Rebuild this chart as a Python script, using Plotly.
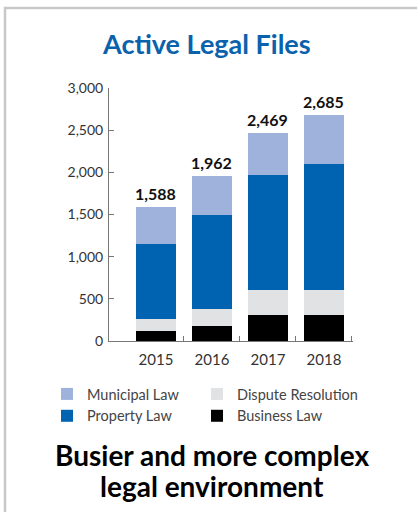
import plotly.graph_objects as go

# Active legal files by practice area, 2015-2018
years = ["2015", "2016", "2017", "2018"]
business_law = [120, 175, 305, 305]
dispute_resolution = [140, 205, 295, 295]
property_law = [890, 1120, 1370, 1495]
municipal_law = [438, 462, 499, 590]
totals = [1588, 1962, 2469, 2685]
y_ticks = [0, 500, 1000, 1500, 2000, 2500, 3000]

xpos = list(range(len(years)))

# stacked from the bottom up; each series goes to one of two legend columns
series = [
    ("Business Law", business_law, "#000000", "legend2", 2),
    ("Dispute Resolution", dispute_resolution, "#e1e2e4", "legend2", 1),
    ("Property Law", property_law, "#0063b1", "legend", 2),
    ("Municipal Law", municipal_law, "#9fb2dc", "legend", 1),
]

fig = go.Figure()
for name, vals, color, leg, rank in series:
    fig.add_trace(go.Bar(
        x=xpos, y=vals, name=name, marker=dict(color=color, line=dict(width=0)),
        width=0.73, legend=leg, legendrank=rank, hoverinfo="skip",
    ))

tick_font = dict(family="Lato", size=14, color="#333333")

# plot area geometry in pixels
W, H = 417, 512
L, R, T, B = 109, 64, 88, 171
pw, ph = W - L - R, H - T - B

def px_x(p):
    return (p - L) / pw

def px_y(p):
    return (H - B - p) / ph

for i, tot in enumerate(totals):
    fig.add_annotation(
        x=xpos[i], y=tot, xref="x", yref="y", text=f"<b>{tot:,}</b>",
        showarrow=False, yanchor="bottom", yshift=2,
        font=dict(family="Lato", size=16, color="#111111"),
    )

fig.add_annotation(
    x=px_x(206), y=px_y(44), xref="paper", yref="paper",
    text="<b>Active Legal Files</b>", showarrow=False,
    xanchor="center", yanchor="middle",
    font=dict(family="Lato", size=27, color="#0a62ad"),
)
for line, cy in (("Busier and more complex", 455), ("legal environment", 486)):
    fig.add_annotation(
        x=px_x(212), y=px_y(cy), xref="paper", yref="paper",
        text=f"<b>{line}</b>", showarrow=False,
        xanchor="center", yanchor="middle",
        font=dict(family="Lato", size=28, color="#000000"),
    )

# frame line along the top and left edges
fig.add_shape(
    type="path", xref="paper", yref="paper",
    path=f"M {px_x(5)} {px_y(560)} L {px_x(5)} {px_y(8)} L {px_x(460)} {px_y(8)}",
    line=dict(color="#c8c8c8", width=2.5),
)

legend_style = dict(
    orientation="v", xanchor="left", yanchor="top", traceorder="normal",
    font=dict(family="Lato", size=14.5, color="#444444"),
    itemclick=False, itemdoubleclick=False, bgcolor="rgba(0,0,0,0)",
)

fig.update_layout(
    width=W, height=H, barmode="stack", bargap=0,
    margin=dict(l=L, r=R, t=T, b=B, pad=0),
    paper_bgcolor="white", plot_bgcolor="white",
    showlegend=True,
    legend=dict(x=px_x(47), y=px_y(378), **legend_style),
    legend2=dict(x=px_x(197), y=px_y(378), **legend_style),
    xaxis=dict(
        range=[-0.839, 3.518], tickvals=xpos, ticktext=years, ticks="",
        showline=True, linecolor="#777777", linewidth=1, showgrid=False,
        zeroline=False, tickfont=dict(family="Lato", size=15, color="#333333"),
        ticklabelstandoff=5, fixedrange=True,
    ),
    xaxis2=dict(
        overlaying="x", matches="x", side="bottom",
        tickvals=[0.5, 1.5, 2.5, 3.5], ticks="inside", ticklen=5,
        tickcolor="#777777", showticklabels=False, showgrid=False,
        showline=False, zeroline=False,
    ),
    yaxis=dict(
        range=[0, 3000], tickvals=y_ticks, tickformat=",", ticks="inside",
        ticklen=5, tickcolor="#777777", showline=True, linecolor="#777777",
        linewidth=1, showgrid=False, zeroline=False, tickfont=tick_font,
        ticklabelstandoff=2, fixedrange=True,
    ),
)
# invisible trace anchoring the secondary axis that carries the boundary ticks
fig.add_trace(go.Scatter(x=[0.5], y=[0], xaxis="x2", mode="markers",
                         marker=dict(opacity=0), showlegend=False, hoverinfo="skip"))

fig.write_html("out.html", config={"displayModeBar": False})
